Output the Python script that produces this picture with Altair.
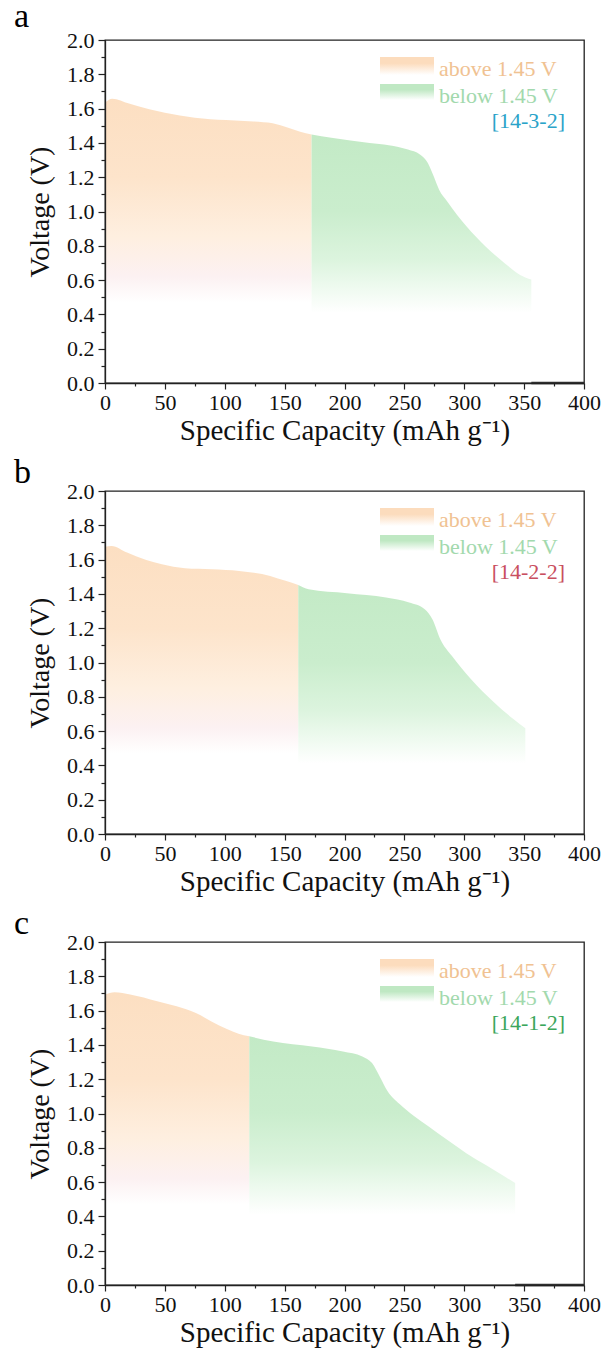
import altair as alt
import pandas as pd

FONT = "Liberation Serif"

# ---------------- data ----------------
# panel a  [14-3-2]
A_ORANGE_CAP = [0, 6, 20, 37, 50, 75, 101, 124, 140, 153, 163, 172.5]
A_ORANGE_V = [1.635, 1.658, 1.63, 1.596, 1.576, 1.547, 1.533, 1.525, 1.514, 1.488, 1.465, 1.449]
A_GREEN_CAP = [172.5, 189, 221, 237, 253, 263, 269.6, 274.5, 279, 285.8, 302, 318, 334, 347, 356]
A_GREEN_V = [1.449, 1.43, 1.40, 1.387, 1.361, 1.332, 1.283, 1.205, 1.127, 1.059, 0.912, 0.795, 0.697, 0.629, 0.603]

# panel b  [14-2-2]
B_ORANGE_CAP = [0, 5.5, 18.4, 34.5, 47.5, 66.8, 89.4, 112, 137.9, 150.8, 161.4]
B_ORANGE_V = [1.675, 1.68, 1.641, 1.598, 1.573, 1.55, 1.544, 1.534, 1.505, 1.476, 1.452]
B_GREEN_CAP = [161.4, 170, 202, 234.7, 254, 267, 273.4, 280, 289.6, 305.7, 325, 341, 351]
B_GREEN_V = [1.452, 1.427, 1.404, 1.379, 1.35, 1.311, 1.252, 1.136, 1.039, 0.903, 0.767, 0.67, 0.616]

# panel c  [14-1-2]
C_ORANGE_CAP = [0, 8, 21, 43.6, 59.8, 75.9, 88.9, 101.8, 111.5, 120.5]
C_ORANGE_V = [1.694, 1.707, 1.694, 1.655, 1.625, 1.586, 1.537, 1.493, 1.465, 1.45]
C_GREEN_CAP = [120.5, 140.5, 172.9, 198.7, 214.9, 223, 229.4, 236, 246, 258, 270, 286, 302, 318, 334.4, 342.5]
C_GREEN_V = [1.45, 1.42, 1.391, 1.362, 1.333, 1.294, 1.216, 1.13, 1.055, 0.985, 0.925, 0.845, 0.767, 0.699, 0.63, 0.595]

PANEL_LETTERS = ["a", "b", "c"]
SAMPLE_LABELS = ["[14-3-2]", "[14-2-2]", "[14-1-2]"]
SAMPLE_COLORS = ["#2aa3c9", "#c94f5f", "#3ba65b"]
TAIL_START = [356, None, 342.5]   # dark segment along 0 V after the end of discharge
LEGEND_TEXT = ["above 1.45 V", "below 1.45 V"]

X_TICKS = list(range(0, 401, 25))
Y_TICKS = [i / 10 for i in range(21)]

# ---------------- styling ----------------
W, H = 479, 343
ORANGE_BASE = 0.47
GREEN_BASE = 0.41
ORANGE_FADE = [(1.72, "#fcdfc2"), (1.2, "#fde4cb"), (0.85, "#feefe0"), (0.62, "#fcf1f2"), (ORANGE_BASE, "#ffffff")]
GREEN_FADE = [(1.46, "#c3eac6"), (1.0, "#caedcd"), (0.72, "#dcf4de"), (0.56, "#eefaef"), (GREEN_BASE, "#ffffff")]
LETTER_Y = [-13, -8, -8]


def gradient(fade, top, base):
    stops = []
    for v, c in fade:
        off = (top - v) / (top - base)
        off = min(max(off, 0.0), 1.0)
        stops.append(alt.GradientStop(color=c, offset=off))
    return alt.Gradient(gradient="linear", stops=stops, x1=0, x2=0, y1=0, y2=1)


def swatch_gradient(top_color):
    return alt.Gradient(
        gradient="linear",
        stops=[alt.GradientStop(color=top_color, offset=0),
               alt.GradientStop(color=top_color, offset=0.35),
               alt.GradientStop(color="#ffffff", offset=1)],
        x1=0, x2=0, y1=0, y2=1)


x_axis = alt.Axis(
    values=X_TICKS,
    title="Specific Capacity (mAh g⁻¹)",
    labelExpr="datum.value % 50 === 0 ? datum.label : ''",
    tickSize={"condition": {"test": "datum.value % 50 === 0", "value": 6}, "value": 3},
    labelPadding=3, titlePadding=3, labelFontSize=22, titleFontSize=29,
    labelFont=FONT, titleFont=FONT, titleFontWeight="normal",
    labelFlush=False, labelOverlap=False, labelBound=False, grid=False, zindex=1,
)
y_axis = alt.Axis(
    values=Y_TICKS,
    title="Voltage (V)",
    format=".1f",
    labelExpr="round(datum.value * 10) % 2 === 0 ? datum.label : ''",
    tickSize={"condition": {"test": "round(datum.value * 10) % 2 === 0", "value": 7}, "value": 4},
    labelPadding=4, titlePadding=12, labelFontSize=22, titleFontSize=28,
    labelFont=FONT, titleFont=FONT, titleFontWeight="normal",
    labelFlush=False, labelOverlap=False, labelBound=False, grid=False, zindex=1,
)

X = alt.X("cap:Q", scale=alt.Scale(domain=[0, 400], nice=False, zero=False), axis=x_axis)
Y = alt.Y("v:Q", scale=alt.Scale(domain=[0, 2], nice=False), axis=y_axis)

ONE = pd.DataFrame({"k": [0]})


def panel(i, ocap, ov, gcap, gv):
    do = pd.DataFrame({"cap": ocap, "v": ov, "base": [ORANGE_BASE] * len(ocap)})
    dg = pd.DataFrame({"cap": gcap, "v": gv, "base": [GREEN_BASE] * len(gcap)})

    orange = alt.Chart(do).mark_area(
        interpolate="monotone",
        color=gradient(ORANGE_FADE, max(ov), ORANGE_BASE),
    ).encode(x=X, y=Y, y2="base:Q")
    green = alt.Chart(dg).mark_area(
        interpolate="monotone",
        color=gradient(GREEN_FADE, max(gv), GREEN_BASE),
    ).encode(x=X, y=Y, y2="base:Q")

    layers = [orange, green]

    if TAIL_START[i] is not None:
        dt = pd.DataFrame({"cap": [TAIL_START[i]], "cap2": [400], "v": [0.0]})
        layers.append(
            alt.Chart(dt).mark_rule(color="#333333", strokeWidth=2.5).encode(x=X, x2="cap2:Q", y=Y)
        )

    # legend swatches
    layers.append(alt.Chart(ONE).mark_rect(color=swatch_gradient("#fcdcbd")).encode(
        x=alt.value(275), x2=alt.value(329), y=alt.value(17), y2=alt.value(35)))
    layers.append(alt.Chart(ONE).mark_rect(color=swatch_gradient("#bfe8c3")).encode(
        x=alt.value(275), x2=alt.value(329), y=alt.value(44), y2=alt.value(60)))
    # legend texts
    layers.append(alt.Chart(ONE).mark_text(
        text=LEGEND_TEXT[0], align="left", baseline="alphabetic", font=FONT, fontSize=22, color="#f0c292"
    ).encode(x=alt.value(334), y=alt.value(36)))
    layers.append(alt.Chart(ONE).mark_text(
        text=LEGEND_TEXT[1], align="left", baseline="alphabetic", font=FONT, fontSize=22, color="#a2d9ad"
    ).encode(x=alt.value(334), y=alt.value(63)))
    layers.append(alt.Chart(ONE).mark_text(
        text=SAMPLE_LABELS[i], align="right", baseline="alphabetic", font=FONT, fontSize=22, color=SAMPLE_COLORS[i]
    ).encode(x=alt.value(460), y=alt.value(88)))
    # panel letter
    layers.append(alt.Chart(ONE).mark_text(
        text=PANEL_LETTERS[i], align="left", baseline="alphabetic", font=FONT, fontSize=34, color="#000000"
    ).encode(x=alt.value(-91), y=alt.value(LETTER_Y[i])))

    return alt.layer(*layers).properties(width=W, height=H)


pa = panel(0, A_ORANGE_CAP, A_ORANGE_V, A_GREEN_CAP, A_GREEN_V)
pb = panel(1, B_ORANGE_CAP, B_ORANGE_V, B_GREEN_CAP, B_GREEN_V)
pc = panel(2, C_ORANGE_CAP, C_ORANGE_V, C_GREEN_CAP, C_GREEN_V)

chart = alt.vconcat(pa, pb, pc, spacing=9).properties(
    padding={"left": 5, "top": -9, "right": 0, "bottom": 0}
).configure_view(
    stroke="#222222", strokeWidth=1.3
).configure_axis(
    domainColor="#222222", domainWidth=1.3, tickColor="#222222", tickWidth=1.2,
    labelColor="#111111", titleColor="#111111",
    labelFont=FONT, titleFont=FONT, titleFontWeight="normal",
)

chart.save("out.html", embed_options={"renderer": "svg", "actions": False})
